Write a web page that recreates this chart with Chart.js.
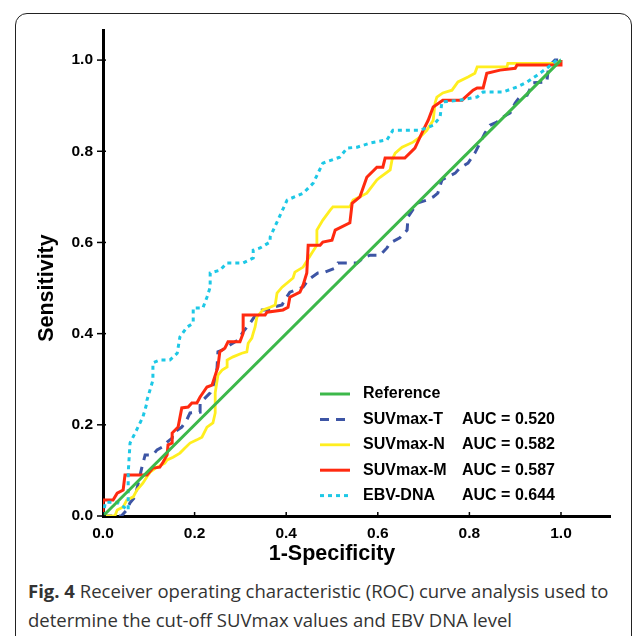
<!DOCTYPE html>
<html><head><meta charset="utf-8">
<script src="https://cdn.jsdelivr.net/npm/chart.js@4"></script>
<style>
html,body{margin:0;padding:0;background:#fff;}
body{width:633px;height:636px;position:relative;overflow:hidden;}
#box{position:absolute;left:15px;top:13px;width:617px;height:680px;border:1.5px solid #222;border-radius:12px;box-sizing:border-box;}
#c{position:absolute;left:0;top:0;}
#cap{position:absolute;left:28px;top:576px;width:600px;font-family:"Open Sans";font-size:18.5px;line-height:29px;color:#333;white-space:nowrap;}
#cap b{font-weight:700;}
</style></head>
<body>
<div id="box"></div>
<canvas id="c" width="633" height="570"></canvas>
<div id="cap"><b>Fig. 4</b> Receiver operating characteristic (ROC) curve analysis used to<br>determine the cut-off SUVmax values and EBV DNA level</div>
<script>
const tickVals = [0, 0.2, 0.4, 0.6, 0.8, 1.0];
const tickLabels = ['0.0', '0.2', '0.4', '0.6', '0.8', '1.0'];
const seriesNames = ['Reference', 'SUVmax-T', 'SUVmax-N', 'SUVmax-M', 'EBV-DNA'];
const aucLabels = ['', 'AUC = 0.520', 'AUC = 0.582', 'AUC = 0.587', 'AUC = 0.644'];

const refX = [0, 1];
const refY = [0, 1];

const tX = [0,0.04,0.052,0.059,0.070,0.076,0.085,0.092,0.109,0.118,0.129,0.140,0.151,0.153,0.172,0.183,0.190,0.212,0.212,0.218,0.234,0.245,0.249,0.251,0.260,0.277,0.295,0.306,0.321,0.336,0.347,0.365,0.371,0.391,0.397,0.408,0.437,0.448,0.469,0.485,0.507,0.513,0.555,0.568,0.583,0.605,0.620,0.627,0.648,0.664,0.666,0.686,0.707,0.721,0.731,0.740,0.751,0.769,0.779,0.797,0.812,0.823,0.834,0.845,0.860,0.873,0.889,0.900,0.910,0.926,0.939,0.969,0.972,0.976,0.987,1.0];
const tY = [0,0,0.013,0.029,0.042,0.068,0.107,0.134,0.134,0.145,0.151,0.162,0.171,0.182,0.195,0.211,0.226,0.228,0.248,0.254,0.270,0.298,0.325,0.360,0.364,0.375,0.386,0.404,0.423,0.445,0.452,0.452,0.458,0.463,0.474,0.491,0.502,0.518,0.533,0.535,0.544,0.555,0.555,0.566,0.572,0.572,0.588,0.599,0.610,0.627,0.656,0.686,0.693,0.700,0.708,0.737,0.743,0.752,0.763,0.774,0.796,0.818,0.840,0.857,0.864,0.875,0.884,0.906,0.919,0.923,0.950,0.952,0.978,0.989,1.0,1.0];

const nX = [0,0.026,0.031,0.044,0.052,0.066,0.074,0.087,0.096,0.103,0.118,0.135,0.140,0.153,0.168,0.179,0.190,0.205,0.216,0.227,0.240,0.245,0.245,0.251,0.260,0.271,0.271,0.284,0.303,0.314,0.317,0.325,0.328,0.332,0.336,0.349,0.365,0.376,0.380,0.391,0.415,0.419,0.437,0.456,0.467,0.467,0.480,0.496,0.502,0.539,0.546,0.561,0.576,0.598,0.605,0.627,0.631,0.638,0.653,0.677,0.692,0.707,0.721,0.725,0.729,0.742,0.762,0.775,0.797,0.812,0.817,0.882,0.884,0.991,1.0];
const nY = [0,0,0.013,0.020,0.035,0.042,0.057,0.072,0.086,0.096,0.107,0.116,0.123,0.129,0.138,0.149,0.160,0.167,0.173,0.195,0.204,0.226,0.270,0.309,0.320,0.327,0.342,0.349,0.357,0.360,0.379,0.390,0.401,0.414,0.436,0.452,0.458,0.463,0.489,0.502,0.522,0.535,0.546,0.577,0.594,0.627,0.649,0.671,0.678,0.678,0.693,0.700,0.708,0.737,0.743,0.759,0.781,0.796,0.809,0.820,0.831,0.846,0.868,0.906,0.919,0.928,0.934,0.952,0.963,0.971,0.985,0.985,0.993,0.993,1.0];

const mX = [0,0,0.022,0.031,0.044,0.048,0.096,0.109,0.124,0.131,0.140,0.142,0.151,0.151,0.164,0.172,0.186,0.194,0.205,0.212,0.227,0.238,0.251,0.255,0.266,0.273,0.299,0.306,0.306,0.354,0.358,0.393,0.404,0.408,0.430,0.437,0.445,0.448,0.474,0.480,0.500,0.507,0.539,0.544,0.561,0.576,0.598,0.611,0.616,0.659,0.681,0.699,0.710,0.721,0.742,0.784,0.808,0.817,0.830,0.838,0.867,0.900,0.904,0.998,1.0];
const mY = [0,0.035,0.035,0.050,0.057,0.090,0.090,0.105,0.107,0.118,0.134,0.156,0.160,0.182,0.195,0.237,0.239,0.248,0.248,0.261,0.283,0.287,0.327,0.360,0.368,0.382,0.382,0.401,0.441,0.441,0.447,0.452,0.458,0.480,0.491,0.507,0.533,0.594,0.594,0.601,0.605,0.627,0.643,0.686,0.700,0.743,0.765,0.765,0.785,0.785,0.807,0.846,0.868,0.897,0.912,0.912,0.934,0.939,0.939,0.971,0.978,0.982,0.989,0.989,1.0];

const eX = [0,0.005,0.03,0.055,0.055,0.059,0.074,0.087,0.096,0.096,0.109,0.109,0.124,0.146,0.162,0.168,0.183,0.197,0.197,0.218,0.227,0.234,0.234,0.255,0.271,0.306,0.328,0.328,0.343,0.365,0.365,0.402,0.437,0.459,0.480,0.517,0.533,0.555,0.583,0.620,0.633,0.692,0.721,0.736,0.740,0.779,0.817,0.830,0.873,0.904,0.926,0.948,0.969,0.991,1.0];
const eY = [0,0.03,0.03,0.013,0.094,0.160,0.190,0.217,0.248,0.254,0.298,0.336,0.342,0.342,0.357,0.393,0.414,0.423,0.456,0.456,0.480,0.502,0.533,0.539,0.555,0.555,0.566,0.583,0.588,0.601,0.612,0.693,0.708,0.730,0.774,0.787,0.807,0.809,0.818,0.825,0.846,0.846,0.857,0.875,0.908,0.912,0.919,0.930,0.930,0.941,0.952,0.967,0.982,1.0,1.0];

const colors = ['#3cb84a', '#3d55a5', '#ffee1f', '#ff2a10', '#1dc8e6'];
const dashes = [[], [9, 7], [], [], [4, 4]];
const widths = [3, 3, 2.8, 3, 3];
const orders = [0, 4, 3, 2, 1];

function pts(xs, ys) { return xs.map((x, i) => ({ x: x, y: ys[i] })); }
const allX = [refX, tX, nX, mX, eX];
const allY = [refY, tY, nY, mY, eY];

const datasets = seriesNames.map((name, i) => ({
  label: name,
  data: pts(allX[i], allY[i]),
  borderColor: colors[i],
  backgroundColor: colors[i],
  borderWidth: widths[i],
  borderDash: dashes[i],
  pointRadius: 0,
  tension: 0,
  fill: false,
  order: orders[i],
  borderJoinStyle: 'miter'
}));

const tickFont = { family: '"Liberation Sans", Arial', size: 15.5, weight: 'bold' };

const deco = {
  id: 'deco',
  afterDraw(chart) {
    const ctx = chart.ctx, xs = chart.scales.x, ys = chart.scales.y;
    ctx.save();
    ctx.strokeStyle = '#000';
    ctx.lineWidth = 1.5;
    tickVals.forEach(v => {
      const px = xs.getPixelForValue(v);
      ctx.beginPath(); ctx.moveTo(px, ys.bottom); ctx.lineTo(px, ys.bottom - 4); ctx.stroke();
      const qy = ys.getPixelForValue(v);
      ctx.beginPath(); ctx.moveTo(xs.left - 6, qy); ctx.lineTo(xs.left + 3, qy); ctx.stroke();
    });
    ctx.fillStyle = '#000';
    ctx.font = 'bold 21.5px "Liberation Sans", Arial';
    ctx.textAlign = 'center';
    ctx.textBaseline = 'middle';
    ctx.fillText('1-Specificity', xs.getPixelForValue(0.5), ys.bottom + 38);
    ctx.save();
    ctx.translate(47, ys.getPixelForValue(0.5));
    ctx.rotate(-Math.PI / 2);
    ctx.fillText('Sensitivity', 0, 0);
    ctx.restore();
    // legend
    ctx.font = 'bold 16px "Liberation Sans", Arial';
    ctx.textAlign = 'left';
    chart.data.datasets.forEach((ds, i) => {
      const y = 394 + i * 25.4;
      ctx.save();
      ctx.strokeStyle = ds.borderColor;
      ctx.lineWidth = ds.borderWidth;
      ctx.setLineDash(ds.borderDash);
      ctx.beginPath(); ctx.moveTo(320, y); ctx.lineTo(350, y); ctx.stroke();
      ctx.restore();
      ctx.fillStyle = '#000';
      ctx.fillText(ds.label, 363, y);
      if (aucLabels[i]) ctx.fillText(aucLabels[i], 462, y);
    });
    ctx.restore();
  }
};

new Chart(document.getElementById('c'), {
  type: 'line',
  data: { datasets: datasets },
  options: {
    responsive: false,
    animation: false,
    devicePixelRatio: 1,
    layout: { padding: { top: 30, right: 23, left: 0, bottom: 0 } },
    plugins: { legend: { display: false }, tooltip: { enabled: false } },
    scales: {
      x: {
        type: 'linear', min: 0, max: 1.107,
        afterBuildTicks: s => { s.ticks = tickVals.map(v => ({ value: v })); },
        afterFit: s => { s.height = 54; },
        ticks: { callback: (v, i) => tickLabels[i], font: tickFont, color: '#000', padding: 8, maxRotation: 0, autoSkip: false },
        grid: { display: false, drawTicks: false },
        border: { display: true, color: '#000', width: 3 }
      },
      y: {
        type: 'linear', min: 0, max: 1.066,
        afterBuildTicks: s => { s.ticks = tickVals.map(v => ({ value: v })); },
        afterFit: s => { s.width = 103; },
        ticks: { callback: (v, i) => tickLabels[i], font: tickFont, color: '#000', padding: 10, autoSkip: false },
        grid: { display: false, drawTicks: false },
        border: { display: true, color: '#000', width: 3 }
      }
    }
  },
  plugins: [deco]
});
</script>
</body></html>
